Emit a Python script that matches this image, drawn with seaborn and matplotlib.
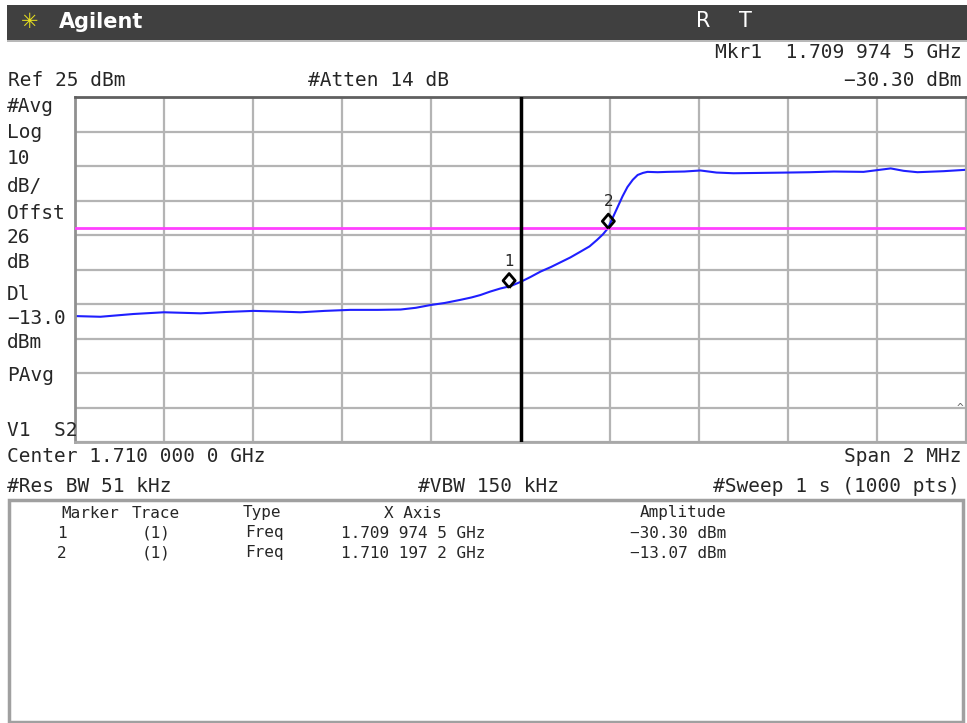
import numpy as np
import pandas as pd
import matplotlib
matplotlib.use("Agg")
import matplotlib.pyplot as plt
import seaborn as sns
from matplotlib.patches import Rectangle
from matplotlib.markers import MarkerStyle
from matplotlib.path import Path

# trace: offset from centre (kHz) and amplitude (dBm)
freq_khz = [-1000, -943, -869, -801, -718, -660, -599, -540, -494, -440, -382,
            -320, -269, -235, -202, -170, -135, -110, -90, -68, -45, -22, 0,
            22, 45, 68, 90, 112, 135, 155, 172, 185, 196, 207, 218, 229, 240,
            252, 263, 275, 285, 308, 330, 368, 404, 440, 478, 540, 599, 650,
            703, 770, 831, 860, 891, 950, 1000]
amp_dbm = [-38.5, -38.7, -37.9, -37.4, -37.7, -37.3, -37.0, -37.2, -37.4, -37.0, -36.7,
           -36.7, -36.6, -36.1, -35.3, -34.7, -33.8, -33.1, -32.4, -31.4, -30.5, -29.8, -28.6,
           -27.2, -25.6, -24.3, -22.9, -21.5, -19.8, -18.3, -16.4, -14.8, -13.1, -10.0, -6.9, -3.8, -1.1,
           1.0, 2.4, 3.0, 3.3, 3.2, 3.3, 3.4, 3.7, 3.1, 2.9, 3.0, 3.1, 3.2,
           3.4, 3.3, 4.3, 3.6, 3.2, 3.5, 3.9]

center_ghz = 1.710
span_mhz = 2
ref_dbm = 25
db_per_div = 10
display_line = -13.0

marker_ids = ["1", "2"]
marker_freq_ghz = [1.7099745, 1.7101972]
marker_amp = [-30.30, -13.07]
marker_freq_txt = ["1.709 974 5 GHz", "1.710 197 2 GHz"]
marker_amp_txt = ["-30.30 dBm", "-13.07 dBm"]

W, H = 967, 723
fig = plt.figure(figsize=(W / 100, H / 100), dpi=100)
sns.set_style("white")
plt.rcParams['font.family'] = ['DejaVu Sans Mono', 'DejaVu Sans']


def ftxt(x, y, s, **kw):
    kw.setdefault("va", "center")
    kw.setdefault("fontsize", 14)
    fig.text(x / W, 1 - y / H, s, **kw)


# title bar
fig.add_artist(Rectangle((7 / W, 1 - 40 / H), (W - 7) / W, 35 / H,
                         transform=fig.transFigure, color="#404040", lw=0))
fig.add_artist(Rectangle((7 / W, 1 - 42 / H), (W - 7) / W, 2 / H,
                         transform=fig.transFigure, color="#b8b8b8", lw=0))
ftxt(30, 22, "\u2733", color="#e8e020", fontsize=15, ha="center",
     family=["DejaVu Sans"])
ftxt(59, 22, "Agilent", color="white", fontsize=15, fontweight="bold",
     family=["DejaVu Sans"])
ftxt(703, 21, "R", color="white", fontsize=15, ha="center", family=["DejaVu Sans"])
ftxt(745, 21, "T", color="white", fontsize=15, ha="center", family=["DejaVu Sans"])

# header annotations
ftxt(962, 53, "Mkr1  " + marker_freq_txt[0], ha="right")
ftxt(8, 81, f"Ref {ref_dbm} dBm")
ftxt(308, 81, "#Atten 14 dB")
ftxt(962, 81, marker_amp_txt[0].replace("-", "\u2212"), ha="right")

left_labels = [("#Avg", 107), ("Log", 133), ("10", 159), ("dB/", 186),
               ("Offst", 213), ("26", 238), ("dB", 262), ("Dl", 295),
               (f"\u2212{abs(display_line):.1f}", 318), ("dBm", 343),
               ("PAvg", 375), ("V1  S2", 430)]
for s, y in left_labels:
    ftxt(7, y, s)

# plot area
ax = fig.add_axes([75 / W, 1 - 442 / H, 891 / W, 345 / H])
df = pd.DataFrame({"f": freq_khz, "a": amp_dbm})
sns.lineplot(data=df, x="f", y="a", ax=ax, color="#1f1fff", lw=1.5)

half = span_mhz * 500
ax.set_xlim(-half, half)
ax.set_ylim(ref_dbm - 10 * db_per_div, ref_dbm)
ax.set_xticks(np.linspace(-half, half, 11))
ax.set_yticks(np.arange(ref_dbm - 10 * db_per_div, ref_dbm + 1, db_per_div))
ax.grid(True, color="#b4b4b4", lw=1.6)
ax.tick_params(length=0, labelbottom=False, labelleft=False)
for sp in ax.spines.values():
    sp.set_color("#a8a8a8")
    sp.set_linewidth(2)
ax.spines["top"].set_color("#606060")
ax.spines["left"].set_color("#909090")

ax.axhline(display_line, color="#ff40ff", lw=2, zorder=3)
ax.axvline(0, color="black", lw=2.5, zorder=4)

# markers: diamond with its lower tip on the point
diamond = MarkerStyle(Path([(0, 0), (-0.85, 1), (0, 2), (0.85, 1), (0, 0)]))
mk = pd.DataFrame({"f": [(g - center_ghz) * 1e6 for g in marker_freq_ghz],
                   "a": marker_amp})
sns.scatterplot(data=mk, x="f", y="a", ax=ax, marker=diamond, s=420,
                facecolor="none", edgecolor="black", linewidth=2, zorder=5)
for i, r in mk.iterrows():
    ax.annotate(marker_ids[i], (r["f"], r["a"]), xytext=(0, 19),
                textcoords="offset points", ha="center", va="center",
                fontsize=11, family=["DejaVu Sans"])
ax.set_xlabel("")
ax.set_ylabel("")
ax.text(0.997, 0.1, "^", transform=ax.transAxes, ha="right", va="center",
        fontsize=8, color="#606060")

# footer annotations
ftxt(7, 457, f"Center {center_ghz:.3f} 000 0 GHz")
ftxt(962, 457, f"Span {span_mhz} MHz", ha="right")
ftxt(7, 486, "#Res BW 51 kHz")
ftxt(418, 486, "#VBW 150 kHz")
ftxt(960, 486, "#Sweep 1 s (1000 pts)", ha="right")

# marker table
fig.add_artist(Rectangle((9 / W, 1 - 722 / H), 954 / W, 222 / H,
                         transform=fig.transFigure, fill=False,
                         edgecolor="#a0a0a0", lw=2.5))
ftxt(90, 513, "Marker", ha="center", fontsize=11.5)
ftxt(156, 513, "Trace", ha="center", fontsize=11.5)
ftxt(262, 513, "Type", ha="center", fontsize=11.5)
ftxt(413, 513, "X Axis", ha="center", fontsize=11.5)
ftxt(726, 513, "Amplitude", ha="right", fontsize=11.5)
for i, y in enumerate([533, 553]):
    ftxt(62, y, marker_ids[i], ha="center", fontsize=11.5)
    ftxt(156, y, "(1)", ha="center", fontsize=11.5)
    ftxt(264, y, "Freq", ha="center", fontsize=11.5)
    ftxt(413, y, marker_freq_txt[i], ha="center", fontsize=11.5)
    ftxt(726, y, marker_amp_txt[i].replace("-", "\u2212"), ha="right",
         fontsize=11.5)

fig.savefig("out.png", dpi=100, facecolor="white")
